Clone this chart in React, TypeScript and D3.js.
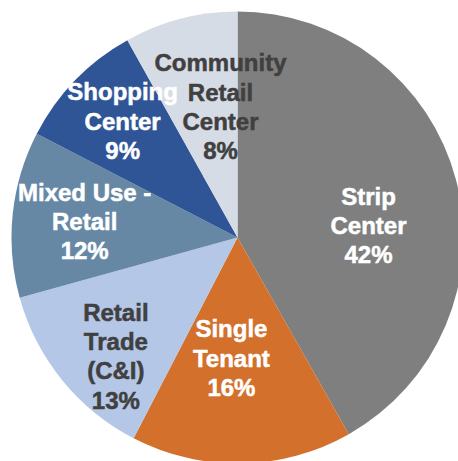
import React from "react";
import * as d3 from "d3";

const categories = [
  "Strip Center",
  "Single Tenant",
  "Retail Trade (C&I)",
  "Mixed Use - Retail",
  "Shopping Center",
  "Community Retail Center",
];
const categoryLines = [
  ["Strip", "Center"],
  ["Single", "Tenant"],
  ["Retail", "Trade", "(C&I)"],
  ["Mixed Use -", "Retail"],
  ["Shopping", "Center"],
  ["Community", "Retail", "Center"],
];
const shares = [41.8, 15.8, 13.1, 11.9, 9.3, 8.1];

const colors = ["#7f7f7f", "#d2702c", "#b4c7e7", "#6688a5", "#2f5597", "#d6dce5"];
const textColors = ["#ffffff", "#ffffff", "#404040", "#ffffff", "#ffffff", "#404040"];
// label placement: radial fraction of radius and angular nudge (degrees)
const labelRadius = [0.582, 0.534, 0.752, 0.68, 0.724, 0.584];
const labelNudge = [9.56, 3.98, -5.24, 0.06, 1.3, 7.18];

const W = 458;
const H = 461;
const CX = 237.5;
const CY = 237.5;
const R = 226;
const FONT = 24;
const LH = 29.2;

export default function App() {
  const data = shares.map((v, i) => ({ name: categories[i], value: v, i }));
  const pie = d3
    .pie<any>()
    .sort(null)
    .value((d: any) => d.value)
    .startAngle(0)
    .endAngle(2 * Math.PI);
  const arcs = pie(data);
  const arcGen = d3.arc<any>().innerRadius(0).outerRadius(R);

  return (
    <svg
      width={W}
      height={H}
      style={{ position: "absolute", left: 0, top: 0, background: "#ffffff" }}
      fontFamily="'Liberation Sans', Arial, sans-serif"
    >
      <g transform={`translate(${CX},${CY})`}>
        {arcs.map((a, i) => (
          <path key={i} d={arcGen(a) as string} fill={colors[i]} />
        ))}
        {arcs.map((a, i) => {
          const mid = (a.startAngle + a.endAngle) / 2 + (labelNudge[i] * Math.PI) / 180;
          const r = labelRadius[i] * R;
          const x = r * Math.sin(mid);
          const y = -r * Math.cos(mid);
          const lines = [...categoryLines[i], `${Math.round(shares[i])}%`];
          const n = lines.length;
          const first = y - ((n - 1) * LH) / 2 + (FONT * 0.716) / 2;
          return (
            <text
              key={i}
              textAnchor="middle"
              fontWeight="bold"
              fontSize={FONT}
              fill={textColors[i]}
              stroke={textColors[i]}
              strokeWidth={0.5}
            >
              {lines.map((l, k) => (
                <tspan key={k} x={x} y={first + k * LH}>
                  {l}
                </tspan>
              ))}
            </text>
          );
        })}
      </g>
    </svg>
  );
}
